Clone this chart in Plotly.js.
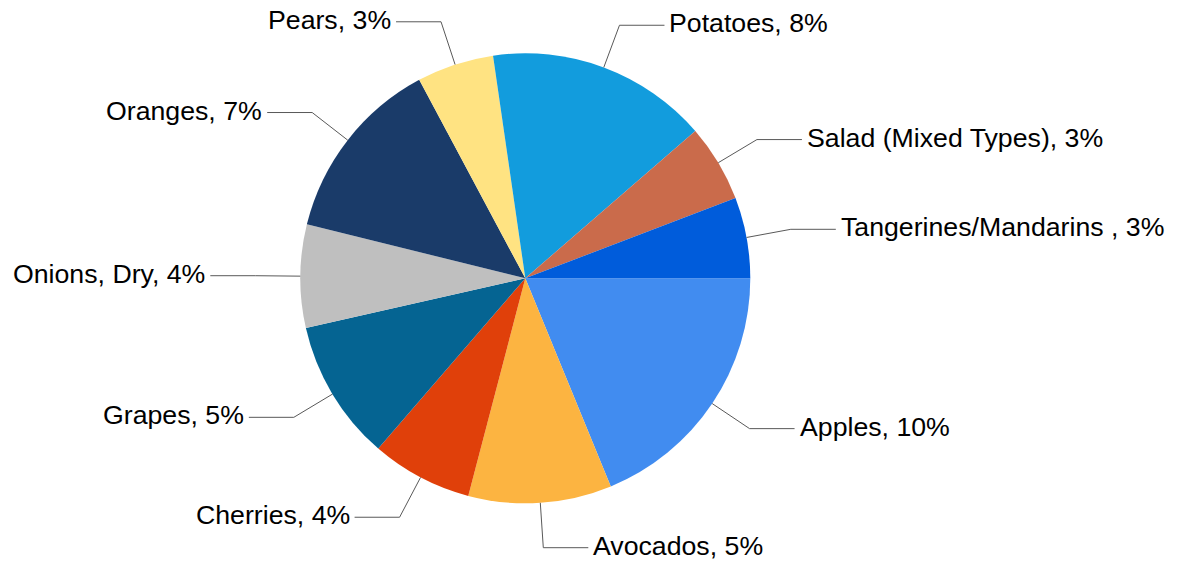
<!DOCTYPE html>
<html>
<head>
<meta charset="utf-8">
<script src="https://cdn.plot.ly/plotly-3.0.1.min.js"></script>
<style>html,body{margin:0;padding:0;background:#fff;}#chart{width:1179px;height:562px;}</style>
</head>
<body>
<div id="chart"></div>
<script>
var labels = ["Apples", "Avocados", "Cherries", "Grapes", "Onions, Dry", "Oranges", "Pears", "Potatoes", "Salad (Mixed Types)", "Tangerines/Mandarins "];
var shares = [9.87, 5.40, 3.81, 5.31, 3.89, 7.00, 2.90, 8.36, 2.92, 3.05];
var colors = ["#418CF0", "#FCB441", "#E0400A", "#056492", "#BFBFBF", "#1A3B69", "#FFE382", "#129CDD", "#CA6B4B", "#005CDB"];

var W = 1179, H = 562;
var cx = 525.3, cy = 278.3, R = 225;

var total = shares.reduce(function (a, b) { return a + b; }, 0);
var shapes = [], annotations = [];
var cum = 0;
function px(x) { return x / W; }
function py(y) { return 1 - y / H; }
for (var i = 0; i < shares.length; i++) {
  var mid = (cum + shares[i] / 2) / total * 2 * Math.PI;
  cum += shares[i];
  var c = Math.cos(mid), s = Math.sin(mid);
  var x0 = cx + R * c, y0 = cy + R * s;
  var x1 = cx + R * 1.2 * c, y1 = cy + R * 1.2 * s;
  var right = c >= 0;
  var x2 = x1 + (right ? 45 : -45);
  shapes.push({
    type: "path", xref: "paper", yref: "paper",
    path: "M" + px(x0) + "," + py(y0) + " L" + px(x1) + "," + py(y1) + " L" + px(x2) + "," + py(y1),
    line: {color: "#595959", width: 1}
  });
  annotations.push({
    xref: "paper", yref: "paper",
    x: px(x2 + (right ? 3 : -3)), y: py(y1),
    xanchor: right ? "left" : "right", yanchor: "middle",
    yshift: 2,
    text: labels[i] + ", " + Math.round(shares[i]) + "%",
    showarrow: false,
    font: {family: "Liberation Sans, Arial, sans-serif", size: 26.7, color: "#000"}
  });
}

var data = [{
  type: "pie",
  labels: labels,
  values: shares,
  sort: false,
  direction: "clockwise",
  rotation: 90,
  textinfo: "none",
  hoverinfo: "label+percent",
  marker: {colors: colors, line: {width: 0}},
  domain: {x: [px(cx - R), px(cx + R)], y: [py(cy + R), py(cy - R)]}
}];

var layout = {
  width: W, height: H,
  margin: {l: 0, r: 0, t: 0, b: 0},
  showlegend: false,
  paper_bgcolor: "#fff",
  shapes: shapes,
  annotations: annotations
};

Plotly.newPlot("chart", data, layout, {displayModeBar: false, staticPlot: true});
</script>
</body>
</html>
